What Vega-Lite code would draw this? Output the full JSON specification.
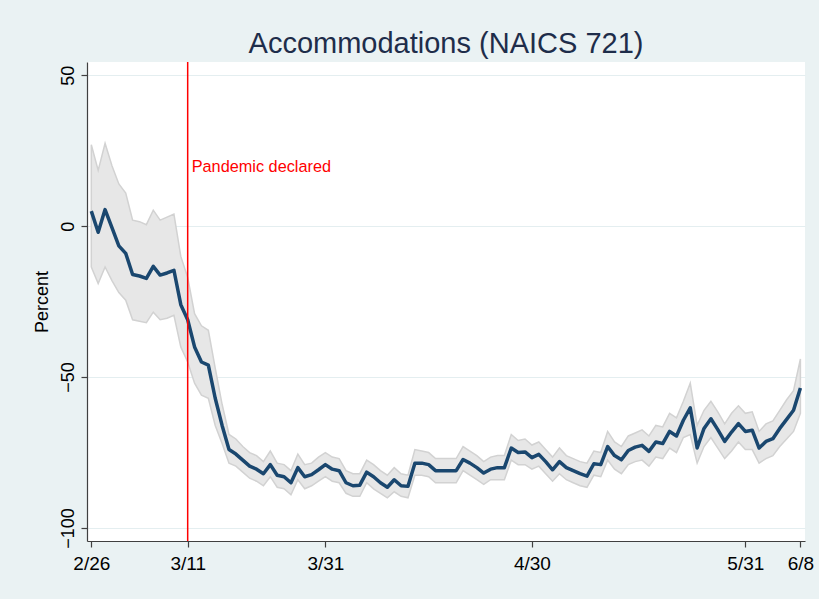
{
  "$schema": "https://vega.github.io/schema/vega-lite/v6.json",
  "width": 718,
  "height": 479,
  "autosize": "none",
  "padding": {"left": 87, "top": 62, "right": 14, "bottom": 58},
  "background": "#EAF2F3",
  "config": {
    "view": {"stroke": null, "fill": "white"},
    "font": "Liberation Sans"
  },
  "title": {
    "text": "Accommodations (NAICS 721)",
    "fontSize": 29,
    "fontWeight": "normal",
    "color": "#1E2D4A",
    "anchor": "middle",
    "frame": "group",
    "baseline": "alphabetic",
    "offset": 7,
    "dy": 28,
    "font": "Liberation Sans"
  },
  "datasets": {
    "series": [
      {"d": "2020-02-26", "m": 5, "lo": -13.5, "hi": 27},
      {"d": "2020-02-27", "m": -2, "lo": -19, "hi": 18.5},
      {"d": "2020-02-28", "m": 5.5, "lo": -13.5, "hi": 27.5},
      {"d": "2020-02-29", "m": -0.5, "lo": -18, "hi": 20},
      {"d": "2020-03-01", "m": -6.5, "lo": -22, "hi": 14},
      {"d": "2020-03-02", "m": -9, "lo": -24.5, "hi": 11},
      {"d": "2020-03-03", "m": -16, "lo": -31, "hi": 2},
      {"d": "2020-03-04", "m": -16.5, "lo": -31.5, "hi": 1.5},
      {"d": "2020-03-05", "m": -17.3, "lo": -32, "hi": 0.5},
      {"d": "2020-03-06", "m": -13.3, "lo": -28.5, "hi": 5.3},
      {"d": "2020-03-07", "m": -16.2, "lo": -31, "hi": 2},
      {"d": "2020-03-08", "m": -15.5, "lo": -30.5, "hi": 3},
      {"d": "2020-03-09", "m": -14.6, "lo": -29.5, "hi": 4},
      {"d": "2020-03-10", "m": -26, "lo": -40, "hi": -10},
      {"d": "2020-03-11", "m": -31, "lo": -45, "hi": -17},
      {"d": "2020-03-12", "m": -40, "lo": -52, "hi": -29},
      {"d": "2020-03-13", "m": -45, "lo": -56, "hi": -33},
      {"d": "2020-03-14", "m": -46, "lo": -57, "hi": -34.5},
      {"d": "2020-03-15", "m": -57, "lo": -66, "hi": -47},
      {"d": "2020-03-16", "m": -66, "lo": -72, "hi": -59},
      {"d": "2020-03-17", "m": -74, "lo": -78.5, "hi": -69},
      {"d": "2020-03-18", "m": -75.5, "lo": -79.5, "hi": -70.5},
      {"d": "2020-03-19", "m": -77.5, "lo": -81.5, "hi": -73},
      {"d": "2020-03-20", "m": -79.5, "lo": -83.5, "hi": -75},
      {"d": "2020-03-21", "m": -80.5, "lo": -84.5, "hi": -76},
      {"d": "2020-03-22", "m": -82, "lo": -86, "hi": -78},
      {"d": "2020-03-23", "m": -79, "lo": -83, "hi": -74.5},
      {"d": "2020-03-24", "m": -82.5, "lo": -86.5, "hi": -78.5},
      {"d": "2020-03-25", "m": -83, "lo": -87, "hi": -79},
      {"d": "2020-03-26", "m": -85, "lo": -89, "hi": -81},
      {"d": "2020-03-27", "m": -80, "lo": -84, "hi": -75.5},
      {"d": "2020-03-28", "m": -83, "lo": -87, "hi": -79},
      {"d": "2020-03-29", "m": -82.3, "lo": -86, "hi": -78.5},
      {"d": "2020-03-30", "m": -80.7, "lo": -84.5, "hi": -76.5},
      {"d": "2020-03-31", "m": -79, "lo": -83, "hi": -75},
      {"d": "2020-04-01", "m": -80.5, "lo": -84.5, "hi": -76.5},
      {"d": "2020-04-02", "m": -81, "lo": -85, "hi": -77},
      {"d": "2020-04-03", "m": -85, "lo": -88.5, "hi": -81},
      {"d": "2020-04-04", "m": -86, "lo": -89.5, "hi": -82},
      {"d": "2020-04-05", "m": -85.8, "lo": -89.5, "hi": -82},
      {"d": "2020-04-06", "m": -81.5, "lo": -85, "hi": -77.5},
      {"d": "2020-04-07", "m": -83, "lo": -87, "hi": -79},
      {"d": "2020-04-08", "m": -85, "lo": -88.5, "hi": -81},
      {"d": "2020-04-09", "m": -86.5, "lo": -90, "hi": -82.5},
      {"d": "2020-04-10", "m": -84, "lo": -88, "hi": -80},
      {"d": "2020-04-11", "m": -86, "lo": -89.5, "hi": -82},
      {"d": "2020-04-12", "m": -86.2, "lo": -90, "hi": -82.5},
      {"d": "2020-04-13", "m": -78.5, "lo": -82.5, "hi": -74},
      {"d": "2020-04-14", "m": -78.5, "lo": -82.5, "hi": -74.5},
      {"d": "2020-04-15", "m": -79, "lo": -83, "hi": -75},
      {"d": "2020-04-16", "m": -81, "lo": -85, "hi": -77},
      {"d": "2020-04-17", "m": -81, "lo": -85, "hi": -77},
      {"d": "2020-04-18", "m": -81, "lo": -85, "hi": -77},
      {"d": "2020-04-19", "m": -81, "lo": -85, "hi": -77},
      {"d": "2020-04-20", "m": -77.3, "lo": -81, "hi": -73},
      {"d": "2020-04-21", "m": -78.5, "lo": -82.5, "hi": -74.5},
      {"d": "2020-04-22", "m": -80, "lo": -84, "hi": -76},
      {"d": "2020-04-23", "m": -81.8, "lo": -85.5, "hi": -78},
      {"d": "2020-04-24", "m": -80.5, "lo": -84, "hi": -76.5},
      {"d": "2020-04-25", "m": -80, "lo": -84, "hi": -76},
      {"d": "2020-04-26", "m": -80, "lo": -84, "hi": -76},
      {"d": "2020-04-27", "m": -73.5, "lo": -77.5, "hi": -69},
      {"d": "2020-04-28", "m": -75, "lo": -79, "hi": -71},
      {"d": "2020-04-29", "m": -74.8, "lo": -79, "hi": -70.5},
      {"d": "2020-04-30", "m": -76.7, "lo": -80.5, "hi": -72.5},
      {"d": "2020-05-01", "m": -75.6, "lo": -79.5, "hi": -71.5},
      {"d": "2020-05-02", "m": -78, "lo": -82, "hi": -74},
      {"d": "2020-05-03", "m": -80.7, "lo": -84.5, "hi": -76.5},
      {"d": "2020-05-04", "m": -78, "lo": -82, "hi": -73.5},
      {"d": "2020-05-05", "m": -80, "lo": -84, "hi": -76},
      {"d": "2020-05-06", "m": -81, "lo": -85, "hi": -77},
      {"d": "2020-05-07", "m": -82, "lo": -86, "hi": -78},
      {"d": "2020-05-08", "m": -82.8, "lo": -86.5, "hi": -78.5},
      {"d": "2020-05-09", "m": -78.7, "lo": -82.5, "hi": -74.5},
      {"d": "2020-05-10", "m": -79, "lo": -83, "hi": -75},
      {"d": "2020-05-11", "m": -73, "lo": -77.5, "hi": -68},
      {"d": "2020-05-12", "m": -76, "lo": -80.5, "hi": -71.5},
      {"d": "2020-05-13", "m": -77.4, "lo": -82, "hi": -73},
      {"d": "2020-05-14", "m": -74.3, "lo": -79, "hi": -69.5},
      {"d": "2020-05-15", "m": -73.2, "lo": -78, "hi": -68.5},
      {"d": "2020-05-16", "m": -72.6, "lo": -77.5, "hi": -67.5},
      {"d": "2020-05-17", "m": -74.6, "lo": -79.5, "hi": -69.5},
      {"d": "2020-05-18", "m": -71.5, "lo": -76.5, "hi": -66},
      {"d": "2020-05-19", "m": -72, "lo": -77, "hi": -66.5},
      {"d": "2020-05-20", "m": -68, "lo": -73.5, "hi": -62},
      {"d": "2020-05-21", "m": -69.5, "lo": -75, "hi": -63.5},
      {"d": "2020-05-22", "m": -64.3, "lo": -70, "hi": -58},
      {"d": "2020-05-23", "m": -60.2, "lo": -69, "hi": -52},
      {"d": "2020-05-24", "m": -73.5, "lo": -78.5, "hi": -66},
      {"d": "2020-05-25", "m": -67, "lo": -73, "hi": -61},
      {"d": "2020-05-26", "m": -63.8, "lo": -70, "hi": -58},
      {"d": "2020-05-27", "m": -67.4, "lo": -73.5, "hi": -61.5},
      {"d": "2020-05-28", "m": -71.3, "lo": -77, "hi": -65.5},
      {"d": "2020-05-29", "m": -68.2, "lo": -74.5, "hi": -62},
      {"d": "2020-05-30", "m": -65.4, "lo": -71.5, "hi": -59.5},
      {"d": "2020-05-31", "m": -68, "lo": -74, "hi": -62},
      {"d": "2020-06-01", "m": -67.6, "lo": -74, "hi": -61.5},
      {"d": "2020-06-02", "m": -73.5, "lo": -78.5, "hi": -68},
      {"d": "2020-06-03", "m": -71.3, "lo": -77, "hi": -65.5},
      {"d": "2020-06-04", "m": -70.4, "lo": -76, "hi": -64.5},
      {"d": "2020-06-05", "m": -67, "lo": -73, "hi": -61},
      {"d": "2020-06-06", "m": -64, "lo": -70.5, "hi": -57.5},
      {"d": "2020-06-07", "m": -61, "lo": -68, "hi": -54.5},
      {"d": "2020-06-08", "m": -53.6, "lo": -62, "hi": -44}
    ],
    "event": [
      {"d": "2020-03-11", "label": "Pandemic declared", "y": 19.6}
    ],
    "zero": [
      {"y": 0}
    ]
  },
  "encoding": {
    "x": {
      "field": "d",
      "type": "temporal",
      "scale": {
        "type": "utc",
        "domain": [
          {"year": 2020, "month": 2, "date": 25, "hours": 9, "utc": true},
          {"year": 2020, "month": 6, "date": 8, "hours": 16, "utc": true}
        ]
      },
      "axis": {
        "title": null,
        "values": [
          {"year": 2020, "month": 2, "date": 26, "utc": true},
          {"year": 2020, "month": 3, "date": 11, "utc": true},
          {"year": 2020, "month": 3, "date": 31, "utc": true},
          {"year": 2020, "month": 4, "date": 30, "utc": true},
          {"year": 2020, "month": 5, "date": 31, "utc": true},
          {"year": 2020, "month": 6, "date": 8, "utc": true}
        ],
        "format": "%-m/%-d",
        "labelFontSize": 19,
        "labelColor": "#000000",
        "labelPadding": 7,
        "labelFlush": false,
        "labelOverlap": false,
        "tickSize": 6,
        "tickColor": "#404040",
        "tickWidth": 1.2,
        "domainColor": "#404040",
        "domainWidth": 1.2,
        "grid": false
      }
    }
  },
  "layer": [
    {
      "data": {"name": "series"},
      "mark": {"type": "area", "fill": "#E7E7E7", "stroke": "#D2D2D2", "strokeWidth": 1.5},
      "encoding": {
        "y": {
          "field": "lo",
          "type": "quantitative",
          "scale": {"domain": [-104.3, 54.4], "nice": false, "zero": false},
          "axis": {
            "title": "Percent",
            "titleFontSize": 18,
            "titleFontWeight": "normal",
            "titleColor": "#000000",
            "titlePadding": 8,
            "values": [-100, -50, 0, 50],
            "labelAngle": 270,
            "labelAlign": "center",
            "labelBaseline": "bottom",
            "labelFontSize": 18,
            "labelColor": "#000000",
            "labelPadding": 4,
            "tickSize": 6,
            "tickColor": "#404040",
            "tickWidth": 1.2,
            "domainColor": "#404040",
            "domainWidth": 1.2,
            "grid": true,
            "gridColor": "#E4EEF0",
            "gridWidth": 1.2
          }
        },
        "y2": {"field": "hi"}
      }
    },
    {
      "data": {"name": "zero"},
      "mark": {"type": "rule", "color": "#8C8C8C", "strokeWidth": 1.5},
      "encoding": {"y": {"field": "y", "type": "quantitative"}}
    },
    {
      "data": {"name": "series"},
      "mark": {"type": "line", "color": "#1A476F", "strokeWidth": 3.5, "strokeJoin": "round"},
      "encoding": {"y": {"field": "m", "type": "quantitative"}}
    },
    {
      "data": {"name": "event"},
      "mark": {"type": "rule", "color": "#FF0000", "strokeWidth": 1.5},
      "encoding": {"x": {"field": "d", "type": "temporal"}}
    },
    {
      "data": {"name": "event"},
      "mark": {"type": "text", "color": "#FF0000", "align": "left", "baseline": "middle", "dx": 4, "fontSize": 16.3, "font": "Liberation Sans"},
      "encoding": {
        "x": {"field": "d", "type": "temporal"},
        "y": {"field": "y", "type": "quantitative"},
        "text": {"field": "label"}
      }
    }
  ]
}
